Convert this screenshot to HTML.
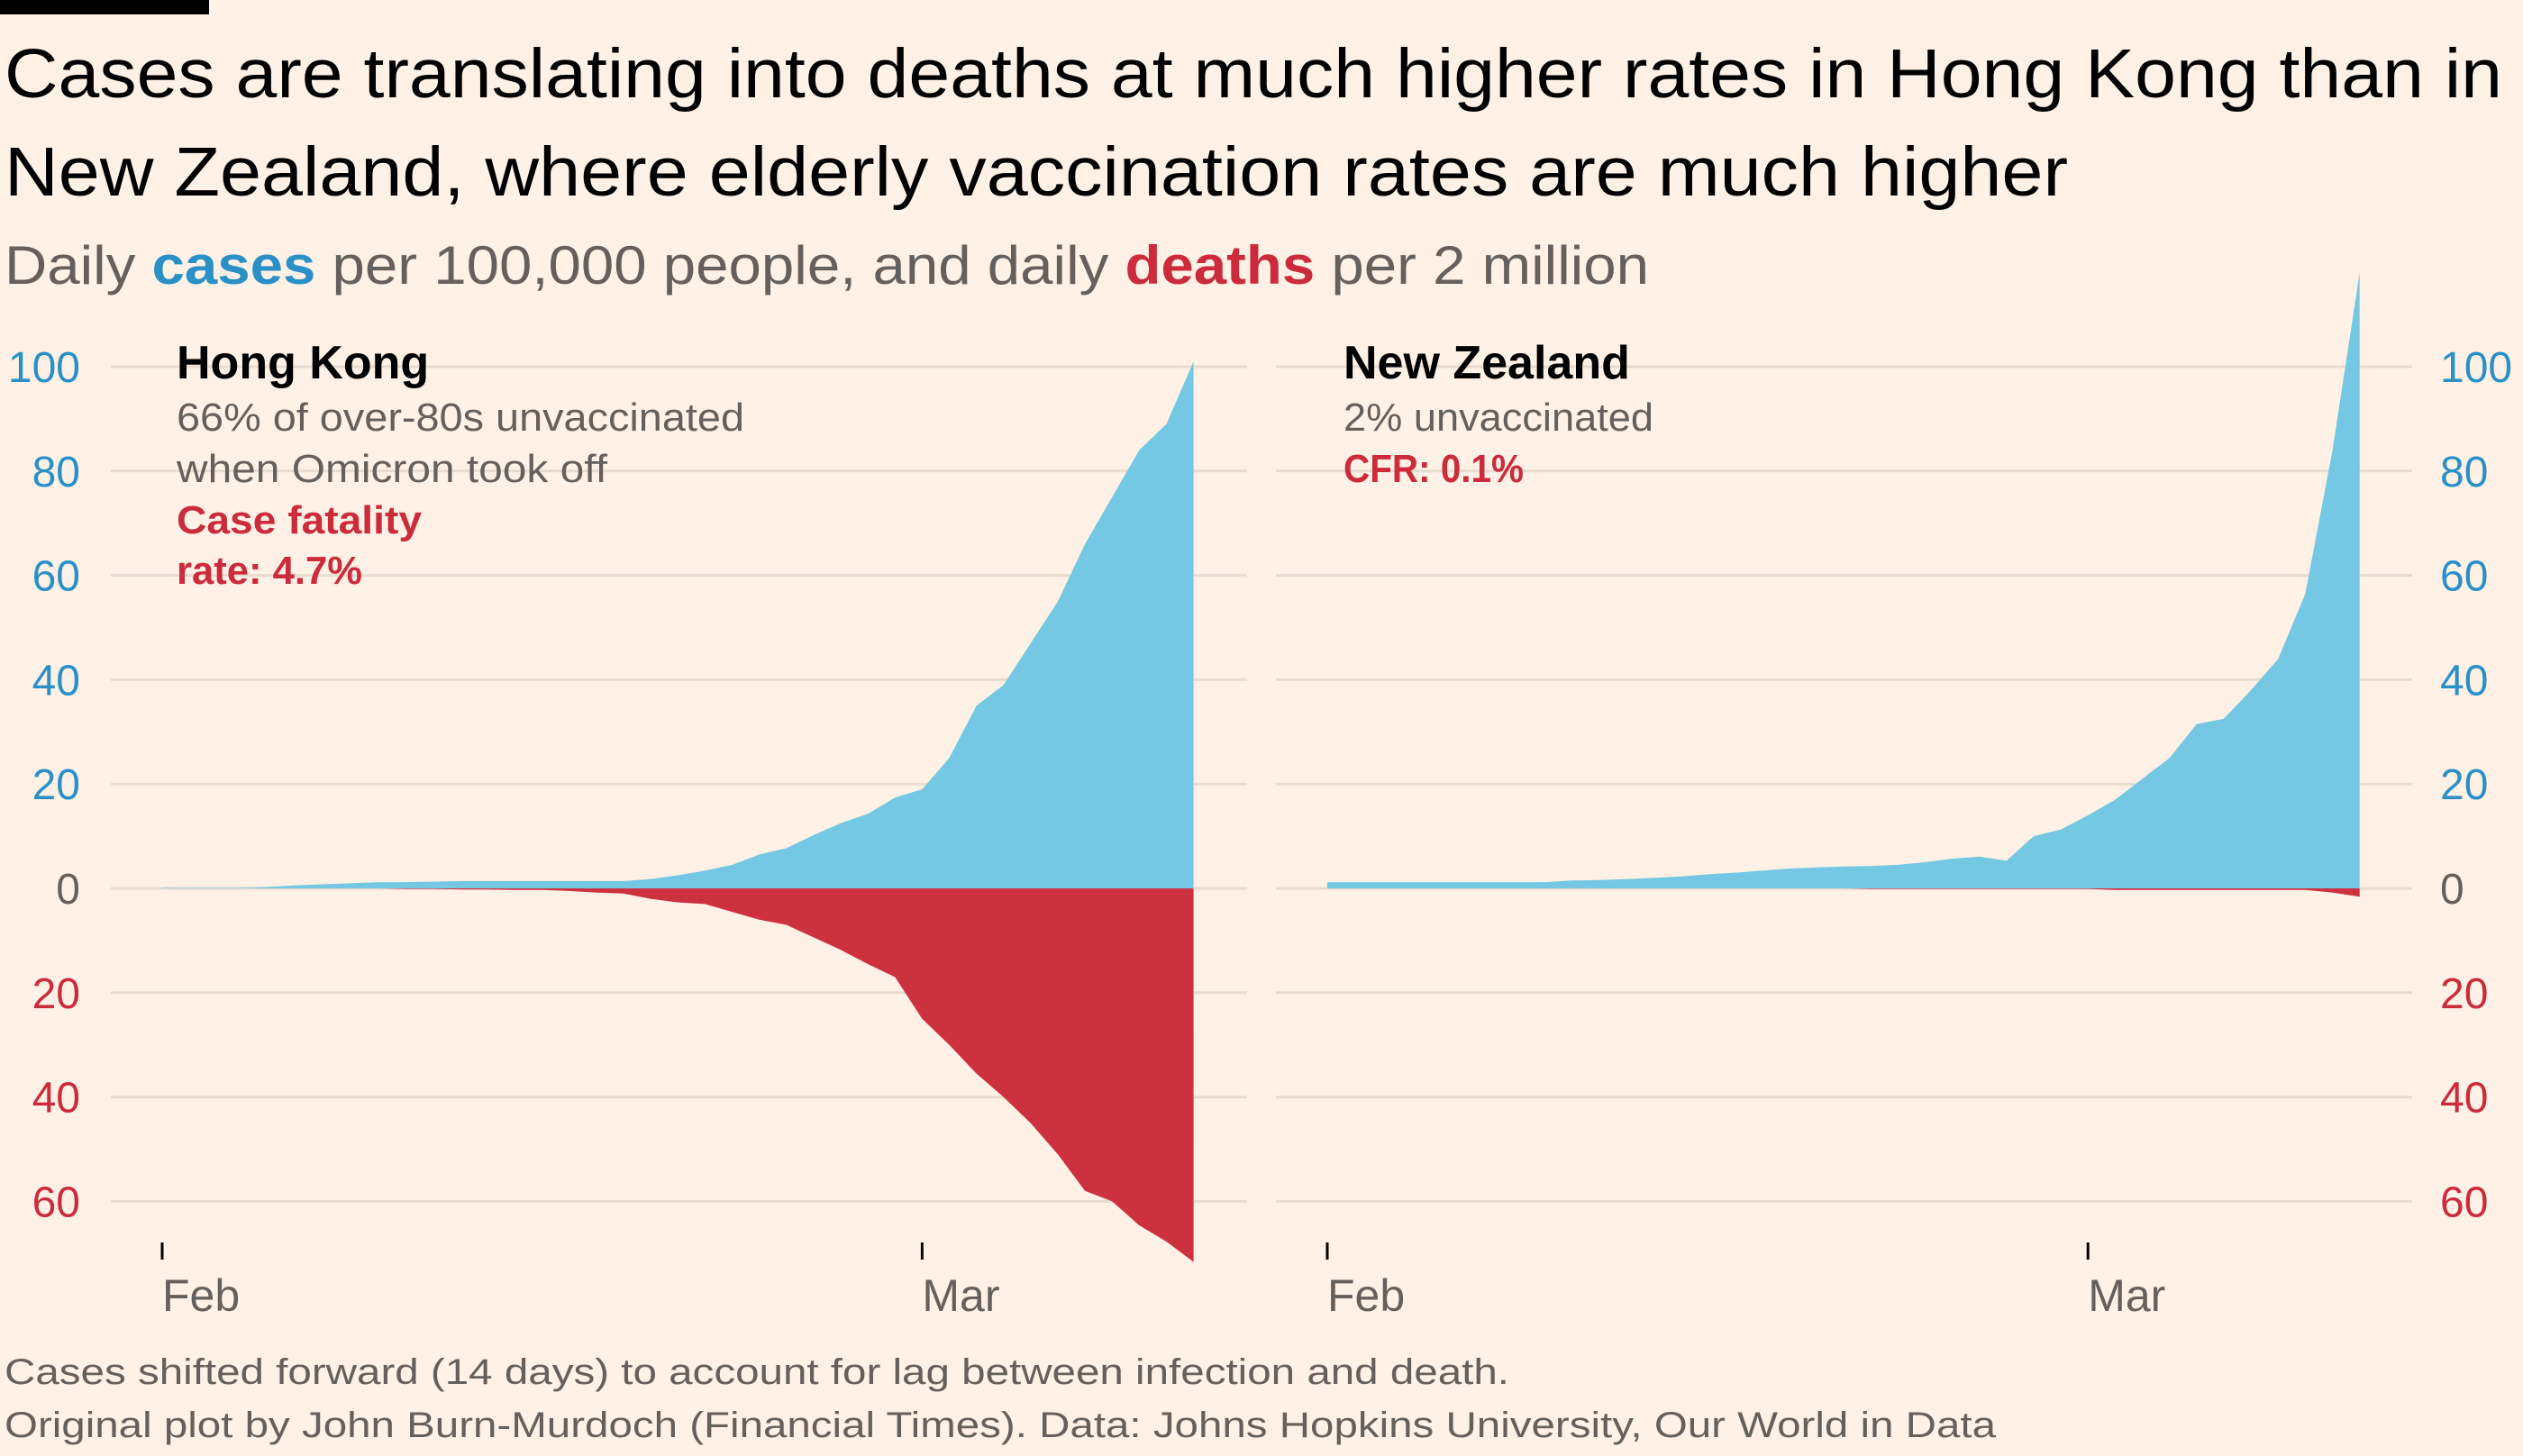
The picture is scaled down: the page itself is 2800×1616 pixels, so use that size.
<!DOCTYPE html>
<html><head><meta charset="utf-8"><style>
html,body{margin:0;padding:0;background:#fff1e5;}
svg{display:block;font-family:"Liberation Sans",sans-serif;}
</style></head><body>
<svg id="chart" width="2800" height="1616" viewBox="0 0 2800 1616" xmlns="http://www.w3.org/2000/svg">
<rect x="0" y="0" width="2800" height="1616" fill="#fff1e5"/>
<rect x="0" y="0" width="232" height="16" fill="#000"/>
<text x="5" y="108" font-size="77" fill="#000" textLength="2772" lengthAdjust="spacingAndGlyphs">Cases are translating into deaths at much higher rates in Hong Kong than in</text>
<text x="5" y="217" font-size="77" fill="#000" textLength="2290" lengthAdjust="spacingAndGlyphs">New Zealand, where elderly vaccination rates are much higher</text>
<text x="5" y="315" font-size="60" fill="#66605c" textLength="1825" lengthAdjust="spacingAndGlyphs">Daily <tspan fill="#2a90c8" font-weight="bold">cases</tspan> per 100,000 people, and daily <tspan fill="#cc2b3b" font-weight="bold">deaths</tspan> per 2 million</text>
<g id="grid"></g>
<g id="areas"></g>
<g id="axes"></g>
<text x="196" y="420" font-size="52" font-weight="bold" fill="#000">Hong Kong</text>
<text x="196" y="478" font-size="44" fill="#66605c" textLength="630" lengthAdjust="spacingAndGlyphs">66% of over-80s unvaccinated</text>
<text x="196" y="535" font-size="44" fill="#66605c" textLength="478" lengthAdjust="spacingAndGlyphs">when Omicron took off</text>
<text x="196" y="592" font-size="44" fill="#cc2b3b" font-weight="bold" textLength="272" lengthAdjust="spacingAndGlyphs">Case fatality</text>
<text x="196" y="648" font-size="44" fill="#cc2b3b" font-weight="bold" textLength="206" lengthAdjust="spacingAndGlyphs">rate: 4.7%</text>
<text x="1491" y="420" font-size="52" font-weight="bold" fill="#000">New Zealand</text>
<text x="1491" y="478" font-size="44" fill="#66605c" textLength="344" lengthAdjust="spacingAndGlyphs">2% unvaccinated</text>
<text x="1491" y="535" font-size="44" fill="#cc2b3b" font-weight="bold" textLength="200" lengthAdjust="spacingAndGlyphs">CFR: 0.1%</text>
<text x="5" y="1536" font-size="40" fill="#66605c" textLength="1670" lengthAdjust="spacingAndGlyphs">Cases shifted forward (14 days) to account for lag between infection and death.</text>
<text x="5" y="1595" font-size="40" fill="#66605c" textLength="2210" lengthAdjust="spacingAndGlyphs">Original plot by John Burn-Murdoch (Financial Times). Data: Johns Hopkins University, Our World in Data</text>
</svg>
<script>
const days = [0,1,2,3,4,5,6,7,8,9,10,11,12,13,14,15,16,17,18,19,20,21,22,23,24,25,26,27,28,29,30,31,32,33,34,35,36,37,38];
const hkCases = [0.1,0.1,0.1,0.1,0.3,0.6,0.8,1.0,1.2,1.2,1.3,1.4,1.4,1.4,1.4,1.4,1.4,1.4,1.8,2.5,3.4,4.5,6.5,7.7,10.2,12.5,14.3,17.4,19,25,35,39,47,55,66,75,84,89,101];
const hkDeaths = [0,0,0,0,0,0,0,0,0,0.1,0.1,0.2,0.2,0.3,0.3,0.5,0.8,1.0,2.0,2.7,3.0,4.5,6.0,7.0,9.4,11.8,14.5,17,25,30,35.5,40,45,51,58,60,64.6,67.7,71.6];
const nzCases = [1.2,1.2,1.2,1.2,1.2,1.2,1.2,1.2,1.2,1.5,1.6,1.8,2.0,2.3,2.7,3.0,3.4,3.8,4.0,4.2,4.3,4.5,5.0,5.7,6.1,5.3,10,11.3,14,17,21,25,31.5,32.5,38,44,56.5,84,118];
const nzDeaths = [0,0,0,0,0,0,0,0,0,0,0,0,0,0,0,0,0,0,0,0,0.1,0.1,0.1,0.1,0.1,0.1,0.1,0.1,0.1,0.3,0.3,0.3,0.3,0.3,0.3,0.3,0.3,0.8,1.6];
const caseTicks = [20,40,60,80,100];
const deathTicks = [20,40,60];
const monthLabels = ["Feb","Mar"];
const monthDays = [0,28];

const NS = "http://www.w3.org/2000/svg";
const zeroY = 986, pxPerUnit = 5.79;
const y = v => zeroY - v * pxPerUnit;
const panels = [
  {name:"hk", x0:180, pxDay:30.12, gx0:123, gx1:1384, cases:hkCases, deaths:hkDeaths, labelX:89, anchor:"end"},
  {name:"nz", x0:1473, pxDay:30.15, gx0:1416, gx1:2677, cases:nzCases, deaths:nzDeaths, labelX:2708, anchor:"start"}
];
const grid = document.getElementById('grid'), areas = document.getElementById('areas'), axes = document.getElementById('axes');
function mk(tag, attrs, parent){ const e=document.createElementNS(NS,tag); for(const k in attrs) e.setAttribute(k,attrs[k]); parent.appendChild(e); return e; }

panels.forEach(p => {
  const x = d => p.x0 + d * p.pxDay;
  const levels = [0].concat(caseTicks).concat(deathTicks.map(v=>-v));
  levels.forEach(v => {
    const l = mk('line',{x1:p.gx0,x2:p.gx1,y1:y(v),y2:y(v),stroke:'#e8dccf','stroke-width':3},grid);
    
    
  });
  // cases area
  let d1 = 'M'+x(days[0])+','+y(0);
  days.forEach((d,i)=>{ d1 += ' L'+x(d).toFixed(1)+','+y(p.cases[i]).toFixed(1); });
  d1 += ' L'+x(days[days.length-1])+','+y(0)+' Z';
  const a1 = mk('path',{d:d1,fill:'#74c8e3'},areas);
  
  
  let d2 = 'M'+x(days[0])+','+y(0);
  days.forEach((d,i)=>{ d2 += ' L'+x(d).toFixed(1)+','+y(-p.deaths[i]).toFixed(1); });
  d2 += ' L'+x(days[days.length-1])+','+y(0)+' Z';
  const a2 = mk('path',{d:d2,fill:'#cd3140'},areas);
  
  
  // y labels
  const z = mk('text',{x:p.labelX,y:y(0)+17,'font-size':48,fill:'#66605c','text-anchor':p.anchor},axes);
  z.textContent = '0';
  
  
  caseTicks.forEach(v=>{
    const t = mk('text',{x:p.labelX,y:y(v)+17,'font-size':48,fill:'#2a90c8','text-anchor':p.anchor},axes);
    t.textContent = v;
    
    
  });
  deathTicks.forEach(v=>{
    const t = mk('text',{x:p.labelX,y:y(-v)+17,'font-size':48,fill:'#cc2b3b','text-anchor':p.anchor},axes);
    t.textContent = v;
    
    
  });
  monthDays.forEach((md,i)=>{
    const tk = mk('line',{x1:x(md),x2:x(md),y1:1379,y2:1398,stroke:'#000','stroke-width':3},axes);
    
    
    const t = mk('text',{x:x(md),y:1455,'font-size':50,fill:'#66605c'},axes);
    t.textContent = monthLabels[i];
    
    
  });
});
</script>
</body></html>
